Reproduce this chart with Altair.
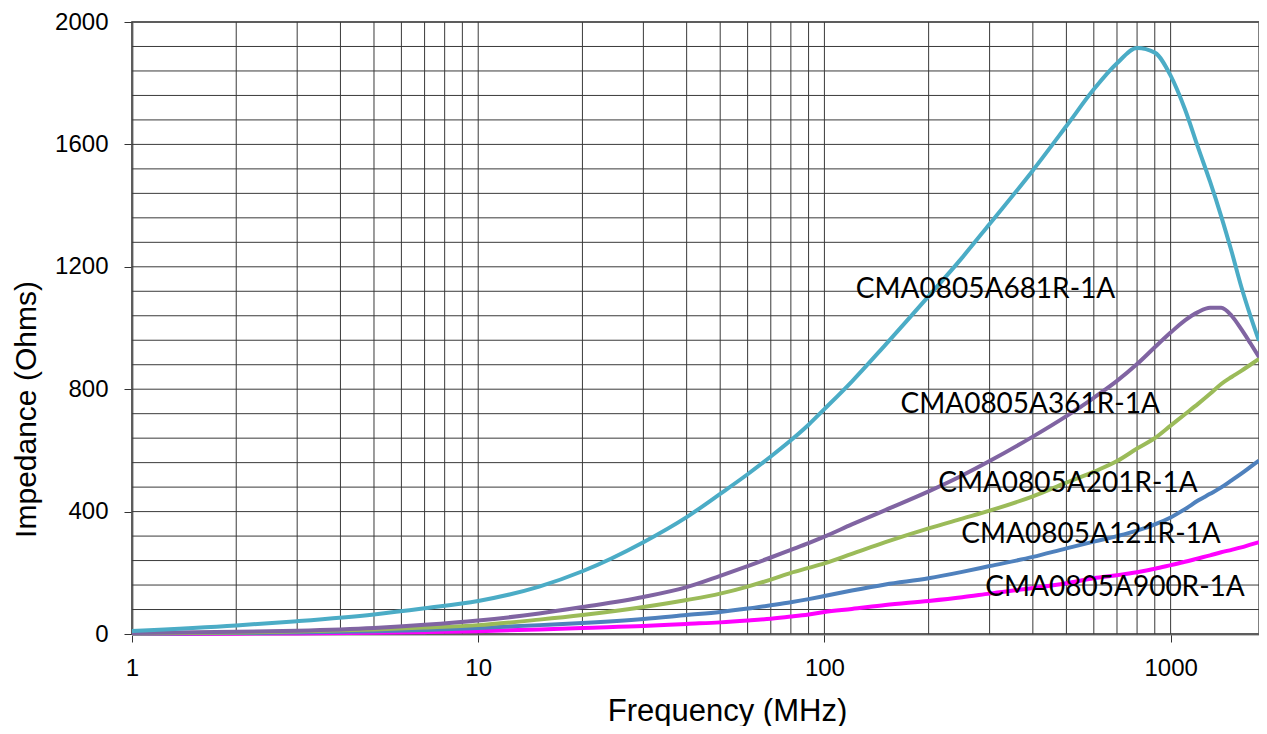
import altair as alt
import pandas as pd

# Frequency grid (MHz) shared by all measured curves
freq = [1, 2, 3, 5, 7, 10, 15, 20, 30, 40, 50, 60, 70, 80, 90, 100, 120, 150, 200, 250,
        300, 400, 500, 600, 700, 800, 900, 1000, 1100, 1200, 1300, 1400, 1500, 1600, 1700, 1800]

# Impedance (Ohms)
z681 = [10, 28, 42, 64, 84, 108, 155, 205, 300, 382, 458, 522, 580, 633, 684, 735, 825, 945, 1104, 1230,
        1340, 1515, 1660, 1780, 1865, 1915, 1900, 1825, 1715, 1590, 1478, 1365, 1250, 1135, 1040, 958]
z361 = [3, 7, 11, 20, 30, 44, 67, 88, 121, 153, 190, 222, 250, 275, 297, 318, 358, 405, 466, 518,
        565, 645, 712, 772, 827, 882, 937, 985, 1025, 1052, 1066, 1066, 1040, 996, 950, 905]
z201 = [2, 5, 8, 15, 21, 29, 47, 62, 88, 111, 132, 155, 178, 200, 216, 231, 262, 300, 345, 377,
        403, 450, 495, 530, 565, 606, 640, 681, 718, 752, 785, 817, 840, 860, 880, 899]
z121 = [1, 3, 5, 9, 13, 20, 29, 36, 49, 62, 72, 83, 94, 104, 114, 124, 142, 162, 182, 203,
        222, 252, 280, 302, 320, 338, 358, 381, 408, 436, 458, 479, 502, 524, 546, 567]
z900 = [0, 1, 2, 4, 6, 9, 15, 20, 26, 33, 38, 44, 50, 57, 64, 72, 82, 95, 108, 120,
        132, 150, 166, 182, 192, 202, 213, 225, 236, 247, 257, 267, 275, 283, 292, 300]

series_names = ["CMA0805A900R-1A", "CMA0805A121R-1A", "CMA0805A201R-1A",
                "CMA0805A361R-1A", "CMA0805A681R-1A"]
series_values = [z900, z121, z201, z361, z681]
series_colors = ["#ff00ff", "#4f81bd", "#9bbb59", "#8064a2", "#4bacc6"]

# Curve label anchors (frequency MHz, impedance Ohms)
label_freq = [691, 589, 505, 393, 292]
label_imp = [124, 297, 464, 722, 1098]

# Axis ticks and grid values
x_ticks = [1, 10, 100, 1000]
x_grid = [m * d for d in (1, 10, 100) for m in range(1, 10)] + [1000]
y_ticks = [0, 400, 800, 1200, 1600, 2000]
y_grid = list(range(0, 2001, 80))

rows = []
for name, vals in zip(series_names, series_values):
    for f, z in zip(freq, vals):
        rows.append({"f": f, "z": z, "series": name})
df = pd.DataFrame(rows)

labels_df = pd.DataFrame({"f": label_freq, "z": label_imp, "text": series_names})
xgrid_df = pd.DataFrame({"f": x_grid})
ygrid_df = pd.DataFrame({"z": y_grid})

xscale = alt.Scale(type="log", domain=[1, 1800], nice=False)
yscale = alt.Scale(domain=[0, 2000], nice=False, zero=True)

xaxis = alt.Axis(values=x_ticks, format="d", title="Frequency (MHz)",
                 labelFlush=False, tickSize=8, labelPadding=14, grid=False,
                 titleFontSize=31,
                 titleX=595, titleY=86, titleBaseline="alphabetic", titleAlign="center")
yaxis = alt.Axis(values=y_ticks, format="d", title="Impedance (Ohms)",
                 tickSize=8, labelPadding=16, grid=False,
                 titleX=-97, titleY=387, titleAngle=-90,
                 titleBaseline="alphabetic", titleAlign="center")

X = alt.X("f:Q", scale=xscale, axis=xaxis, title="Frequency (MHz)")
Y = alt.Y("z:Q", scale=yscale, axis=yaxis, title="Impedance (Ohms)")

xgrid = alt.Chart(xgrid_df).mark_rule(color="#3a3a3a", strokeWidth=1).encode(x=X)
ygrid = alt.Chart(ygrid_df).mark_rule(color="#3a3a3a", strokeWidth=1).encode(y=Y)

lines = alt.Chart(df).mark_line(strokeWidth=4, interpolate="monotone").encode(
    x=X,
    y=Y,
    color=alt.Color("series:N", scale=alt.Scale(domain=series_names, range=series_colors),
                    legend=None),
)

texts = alt.Chart(labels_df).mark_text(
    font="Lato", fontSize=28, color="#000000", align="center", baseline="alphabetic"
).encode(x=X, y=Y, text="text:N")

chart = alt.layer(xgrid, ygrid, lines, texts).properties(
    width=1127,
    height=612,
    autosize=alt.AutoSizeParams(type="none"),
    padding={"left": 124, "top": 14, "right": 0, "bottom": 92},
).configure_view(
    stroke="#808080", strokeWidth=2
).configure_axis(
    domainColor="#808080",
    domainWidth=2,
    tickColor="#333333",
    tickWidth=1,
    labelFont="Liberation Sans",
    labelFontSize=24,
    labelColor="#000000",
    titleFont="Liberation Sans",
    titleFontSize=30,
    titleFontWeight="normal",
    titleColor="#000000",
)

chart.save("out.html", embed_options={"renderer": "svg", "actions": False})
